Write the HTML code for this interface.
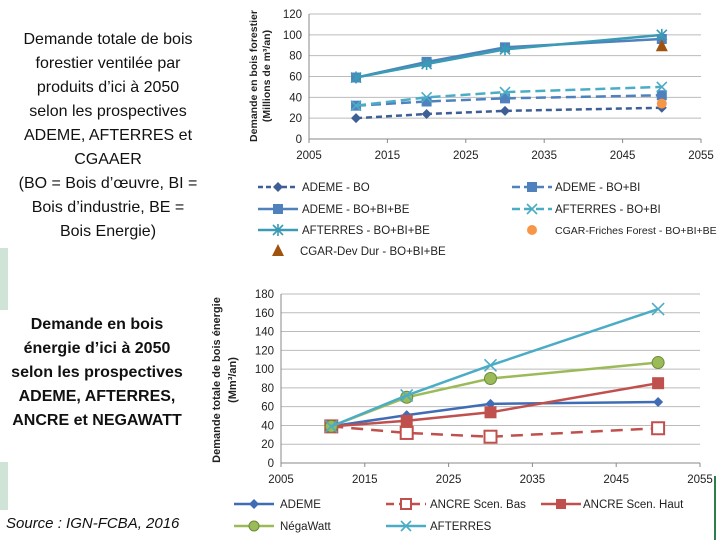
<!DOCTYPE html>
<html><head><meta charset="utf-8">
<style>
body{margin:0;width:720px;height:540px;background:#fff;overflow:hidden;font-family:"Liberation Sans",sans-serif;}
.txt{position:absolute;text-align:center;color:#111;font-size:16px;line-height:24px;white-space:nowrap;}
</style></head>
<body>
<div style="position:absolute;left:0;top:248px;width:8px;height:62px;background:#cfe3d6"></div>
<div style="position:absolute;left:0;top:462px;width:8px;height:48px;background:#cfe3d6"></div>
<div class="txt" style="left:0;top:28px;width:216px;">Demande totale de bois<br>forestier ventilée par<br>produits d’ici à 2050<br>selon les prospectives<br>ADEME, AFTERRES et<br>CGAAER<br>(BO = Bois d’œuvre, BI =<br>Bois d’industrie, BE =<br>Bois Energie)</div>
<div class="txt" style="left:0;top:313px;width:194px;font-weight:bold;font-size:16px;">Demande en bois<br>énergie d’ici à 2050<br>selon les prospectives<br>ADEME, AFTERRES,<br>ANCRE et NEGAWATT</div>
<div style="position:absolute;left:6px;top:515px;font-size:15px;font-style:italic;color:#111;">Source : IGN-FCBA, 2016</div>
<div style="position:absolute;left:714px;top:476px;width:2px;height:64px;background:#2e7d4f"></div>
<svg id="svg" width="720" height="540" style="position:absolute;left:0;top:0"></svg>
<script>
const years=[2011,2020,2030,2050];
const c1Ticks=[0,20,40,60,80,100,120];
const c2Ticks=[0,20,40,60,80,100,120,140,160,180];
const xTicks=[2005,2015,2025,2035,2045,2055];
const ademeBO=[20,24,27,30];
const ademeBOBI=[32,36,39,42];
const ademeAll=[59,74,88,96];
const afterresBOBI=[32,40,45,50];
const afterresAll=[59,72,86,100];
const cgarFriches=[34];
const cgarDevDur=[89];
const e_ademe=[39,51,63,65];
const e_ancreBas=[39,32,28,37];
const e_ancreHaut=[39,45,54,85];
const e_negawatt=[39,70,90,107];
const e_afterres=[39,72,104,164];

const NS="http://www.w3.org/2000/svg";
const svg=document.getElementById('svg');
function mk(t,a,p){const e=document.createElementNS(NS,t);for(const k in a)e.setAttribute(k,a[k]);(p||svg).appendChild(e);return e;}
function axes(X0,X1,Y0,Y1,ymax){return {x:v=>X0+(v-2005)/50*(X1-X0),y:v=>Y0-v/ymax*(Y0-Y1)};}
function marker(type,x,y,col,name,sz){let e;const s=sz||5;
 if(type==='diamond')e=mk('polygon',{points:`${x},${y-s} ${x+s},${y} ${x},${y+s} ${x-s},${y}`,fill:col});
 else if(type==='square')e=mk('rect',{x:x-s,y:y-s,width:2*s,height:2*s,fill:col});
 else if(type==='osquare')e=mk('rect',{x:x-s,y:y-s,width:2*s,height:2*s,fill:'#fff',stroke:col,'stroke-width':2});
 else if(type==='circle')e=mk('circle',{cx:x,cy:y,r:s,fill:col,stroke:'#6b8a3a','stroke-width':1});
 else if(type==='ocircle')e=mk('circle',{cx:x,cy:y,r:s,fill:col});
 else if(type==='tri')e=mk('polygon',{points:`${x},${y-s-2} ${x+s+1},${y+s} ${x-s-1},${y+s}`,fill:col});
 else {e=mk('path',{d:`M${x-s} ${y-s}L${x+s} ${y+s}M${x-s} ${y+s}L${x+s} ${y-s}`+(type==='star'?`M${x} ${y-s-1}L${x} ${y+s+1}`:''),stroke:col,'stroke-width':1.6,fill:'none'});}
 
 
 return e;}
function drawAxes(A,ticks,X0,X1,Y0,pref){
 ticks.forEach(t=>{const y=A.y(t);mk('line',{x1:X0,x2:X1,y1:y,y2:y,stroke:t===0?'#888':'#bbb','stroke-width':1});
  const l=mk('text',{x:X0-7,y:y+4,'text-anchor':'end','font-size':11.5,fill:'#222'});l.textContent=t;
  
  });
 xTicks.forEach(t=>{const x=A.x(t);mk('line',{x1:x,x2:x,y1:Y0,y2:Y0+4,stroke:'#888'});
  const l=mk('text',{x:x,y:Y0+20,'text-anchor':'middle','font-size':11.5,fill:'#222'});l.textContent=t;
  
  });
 mk('line',{x1:X0,x2:X0,y1:Y0,y2:A.y(ticks[ticks.length-1]),stroke:'#888'});}
function series(A,xs,vals,col,dash,mtype,name,w,ms){
 if(vals.length>1){const p=mk('polyline',{points:vals.map((v,i)=>A.x(xs[i])+','+A.y(v)).join(' '),fill:'none',stroke:col,'stroke-width':w||2.5,'stroke-dasharray':dash||'none'});
  
  }
 vals.forEach((v,i)=>marker(mtype,A.x(xs[i]),A.y(v),col,name+'-point',ms));}
function legend(x,y,col,dash,mtype,label,name,lx,fs){
 if(dash!==null){const l=mk('line',{x1:x,x2:x+40,y1:y,y2:y,stroke:col,'stroke-width':2.5,'stroke-dasharray':dash||'none'});
  
  }
 marker(mtype,x+20,y,col,name+'-marker');
 const t=mk('text',{x:lx||x+44,y:y+4,'font-size':fs||11.5,fill:'#222'});t.textContent=label;
 
 }

// Chart 1
const A1=axes(309,701,139,14,120);
drawAxes(A1,c1Ticks,309,701,139,'chart1');
const yt1=mk('text',{transform:'translate(257,76) rotate(-90)','text-anchor':'middle','font-size':10.5,'font-weight':'bold',fill:'#222'});
yt1.textContent='Demande en bois forestier';


const yt1b=mk('text',{transform:'translate(270,76) rotate(-90)','text-anchor':'middle','font-size':10.5,'font-weight':'bold',fill:'#222'});
yt1b.textContent='(Millions de m³/an)';


series(A1,years,ademeBO,'#3d5f95','6,4','diamond','ademe-bo',2.5,5);
series(A1,years,ademeBOBI,'#4f81bd','10,5','square','ademe-bo-bi',2.5,5);
series(A1,years,afterresBOBI,'#4bacc6','10,5','cross','afterres-bo-bi',2.5,5);
series(A1,years,ademeAll,'#4f81bd','none','square','ademe-bo-bi-be',2.5,5);
series(A1,years,afterresAll,'#3a9bb5','none','star','afterres-bo-bi-be',2.5,5);
series(A1,[2050],cgarFriches,'#f79646',null,'ocircle','cgar-friches',6);
series(A1,[2050],cgarDevDur,'#a0520f',null,'tri','cgar-dev-dur',6);
legend(258,187,'#3d5f95','5,3','diamond','ADEME - BO','leg-ademe-bo');
legend(512,187,'#4f81bd','8,4','square','ADEME - BO+BI','leg-ademe-bo-bi',555);
legend(258,209,'#4f81bd','none','square','ADEME - BO+BI+BE','leg-ademe-bo-bi-be');
legend(512,209,'#4bacc6','8,4','cross','AFTERRES - BO+BI','leg-afterres-bo-bi',555);
legend(258,230,'#3a9bb5','none','star','AFTERRES - BO+BI+BE','leg-afterres-bo-bi-be');
legend(512,230,'#f79646',null,'ocircle','CGAR-Friches Forest - BO+BI+BE','leg-cgar-friches',555,10.5);
legend(258,251,'#a0520f',null,'tri','CGAR-Dev Dur - BO+BI+BE','leg-cgar-dev-dur',300);

// Chart 2
const A2=axes(281,700,463,294,180);
drawAxes(A2,c2Ticks,281,700,463,'chart2');
const yt2=mk('text',{transform:'translate(220,380) rotate(-90)','text-anchor':'middle','font-size':11,'font-weight':'bold',fill:'#222'});
yt2.textContent='Demande totale de bois énergie';


const yt2b=mk('text',{transform:'translate(236,380) rotate(-90)','text-anchor':'middle','font-size':11,'font-weight':'bold',fill:'#222'});
yt2b.textContent='(Mm³/an)';


series(A2,years,e_ancreBas,'#c0504d','12,8','osquare','ancre-bas',2.5,6);
series(A2,years,e_ademe,'#3f6cb5','none','diamond','ademe',2.5,5);
series(A2,years,e_ancreHaut,'#c0504d','none','square','ancre-haut',2.5,6);
series(A2,years,e_negawatt,'#9bbb59','none','circle','negawatt',2.5,6);
series(A2,years,e_afterres,'#4bacc6','none','cross','afterres',2.5,6);
legend(234,504,'#3f6cb5','none','diamond','ADEME','leg-ademe',280);
legend(386,504,'#c0504d','8,5','osquare','ANCRE Scen. Bas','leg-ancre-bas',430);
legend(541,504,'#c0504d','none','square','ANCRE Scen. Haut','leg-ancre-haut',583);
legend(234,526,'#9bbb59','none','circle','NégaWatt','leg-negawatt',280);
legend(386,526,'#4bacc6','none','cross','AFTERRES','leg-afterres',430);
</script>
</body></html>
